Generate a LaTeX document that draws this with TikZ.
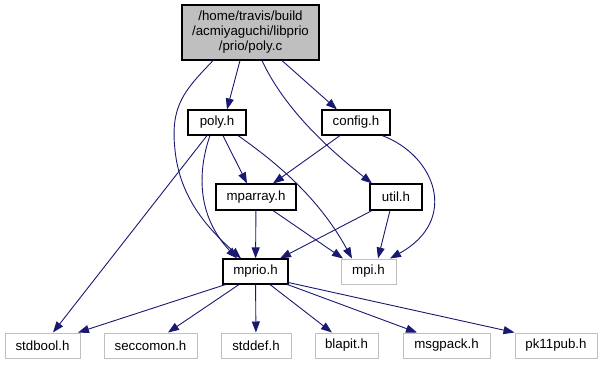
\documentclass[tikz,border=0pt]{standalone}
\usepackage{fontspec}
\setmainfont{Liberation Sans}
\usetikzlibrary{arrows.meta}
\definecolor{edgeblue}{HTML}{191970}
\definecolor{extgray}{HTML}{BFBFBF}

\begin{document}
\begin{tikzpicture}[x=1pt,y=-1pt,
  box/.style={draw=black, line width=1.1pt, inner sep=0pt, minimum height=25pt,
    font=\fontsize{13.3}{15}\selectfont},
  ext/.style={box, draw=extgray, line width=1pt},
  dep/.style={draw=edgeblue, line width=0.9pt,
    -{Triangle[length=11pt,width=8pt]}}]
\useasboundingbox (0,0) rectangle (603,365);

% source file
\node[box, fill=extgray, minimum width=137pt, minimum height=55pt, align=center]
  (polyc) at (250.5,32.5) {/home/travis/build\\/acmiyaguchi/libprio\\/prio/poly.c};

% project headers
\node[box, minimum width=58pt] (polyh) at (217,122.5) {poly.h};
\node[box, minimum width=68pt] (configh) at (356,122.5) {config.h};
\node[box, minimum width=80pt, minimum height=26pt] (mparray) at (256,197) {mparray.h};
\node[box, minimum width=52pt, minimum height=26pt] (utilh) at (396,197) {util.h};
\node[box, minimum width=65pt] (mprio) at (255.5,271.5) {mprio.h};

% external headers
\node[ext, minimum width=55pt] (mpi) at (368.5,271.5) {mpi.h};
\node[ext, minimum width=75pt] (stdbool) at (42.5,345.5) {stdbool.h};
\node[ext, minimum width=93pt] (seccomon) at (150.5,345.5) {seccomon.h};
\node[ext, minimum width=70pt] (stddef) at (256,345.5) {stddef.h};
\node[ext, minimum width=63pt] (blapit) at (346.5,345.5) {blapit.h};
\node[ext, minimum width=87pt] (msgpack) at (446.5,345.5) {msgpack.h};
\node[ext, minimum width=82pt] (pk11pub) at (556,345.5) {pk11pub.h};

% includes of poly.c
\draw[dep] ([xshift=-10.5pt]polyc.south) -- ([xshift=10pt]polyh.north);
\draw[dep] ([xshift=31.5pt]polyc.south) -- ([xshift=-19pt]configh.north);
\draw[dep] ([xshift=11.5pt]polyc.south) .. controls (285,110) and (330,150) .. ([xshift=-24pt]utilh.north);
\draw[dep] ([xshift=-37.5pt]polyc.south) .. controls (185,90) and (170,105) .. (175,150)
  .. controls (180,200) and (210,230) .. ([xshift=-14.5pt]mprio.north);

% includes of poly.h
\draw[dep] ([xshift=-10pt]polyh.south) -- ([xshift=10.5pt]stdbool.north);
\draw[dep] ([xshift=-7pt]polyh.south) .. controls (198,170) and (196,215) .. ([xshift=-18.5pt]mprio.north);
\draw[dep] ([xshift=6pt]polyh.south) -- ([xshift=-9pt]mparray.north);
\draw[dep] ([xshift=21pt]polyh.south) .. controls (280,165) and (320,200) .. ([xshift=-16.5pt]mpi.north);

% includes of config.h
\draw[dep] ([xshift=-16pt]configh.south) -- ([xshift=17pt]mparray.north);
\draw[dep] ([xshift=26pt]configh.south) .. controls (435,155) and (460,220) .. ([xshift=21.5pt]mpi.north);

% includes of util.h
\draw[dep] ([xshift=-24pt]utilh.south) -- ([xshift=24.5pt]mprio.north);
\draw[dep] ([xshift=-6pt]utilh.south) -- ([xshift=9.5pt]mpi.north);

% includes of mparray.h
\draw[dep] (mparray) -- (mprio);
\draw[dep] ([xshift=17pt]mparray.south) -- ([xshift=-25.5pt]mpi.north);

% includes of mprio.h
\draw[dep] ([xshift=-30pt]mprio.south) -- ([xshift=35.5pt]stdbool.north);
\draw[dep] ([xshift=-16.5pt]mprio.south) -- ([xshift=17.5pt]seccomon.north);
\draw[dep] (mprio) -- (stddef);
\draw[dep] ([xshift=14.5pt]mprio.south) -- ([xshift=-14.5pt]blapit.north);
\draw[dep] ([xshift=-1pt]mprio.south east) -- ([xshift=-29.5pt]msgpack.north);
\draw[dep] ([yshift=2pt]mprio.south east) -- (pk11pub.north west);
\end{tikzpicture}
\end{document}
